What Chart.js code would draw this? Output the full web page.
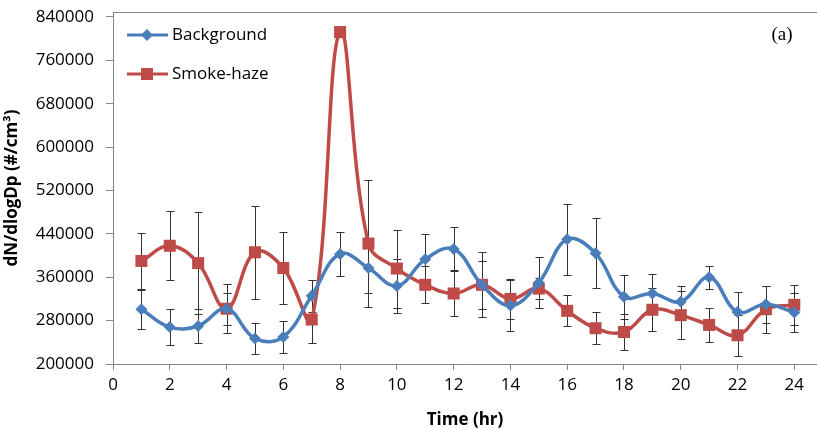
<!DOCTYPE html>
<html>
<head>
<meta charset="utf-8">
<script src="https://cdn.jsdelivr.net/npm/chart.js@4/dist/chart.umd.min.js"></script>
<style>
  html, body { margin: 0; padding: 0; background: #fff; }
  #wrap { width: 817px; height: 429px; }
</style>
</head>
<body>
<div id="wrap"><canvas id="sizeChart"></canvas></div>
<script>
// Hourly number concentration
const hours = [1, 2, 3, 4, 5, 6, 7, 8, 9, 10, 11, 12, 13, 14, 15, 16, 17, 18, 19, 20, 21, 22, 23, 24];
const background = [301000, 268000, 270000, 302000, 247000, 250000, 326000, 403000, 377000, 344000, 393000, 412000,
                    346000, 308000, 350000, 430000, 404000, 324000, 330000, 315000, 360000, 296000, 310000, 295000];
const backgroundErr = [35600, 33800, 30700, 29500, 28300, 30100, 29500, 41200, 45500, 49800, 46100, 41200,
                       60200, 46700, 46700, 65800, 64500, 40600, 36300, 28900, 20900, 36300, 34400, 35600];
const smokeHaze = [390000, 418000, 386000, 302000, 406000, 377000, 282000, 812000, 422000, 376000, 346000, 330000,
                   346000, 320000, 339000, 298000, 266000, 259000, 300000, 290000, 272000, 253000, 301000, 309000];
const smokeHazeErr = [52200, 63900, 94600, 44900, 85400, 67000, 44200, 5000, 116700, 71900, 33800, 42400,
                      44500, 36900, 19700, 28300, 29500, 33800, 39900, 44200, 32000, 38100, 43700, 36900];
const xTickValues = [0, 2, 4, 6, 8, 10, 12, 14, 16, 18, 20, 22, 24];
const yTickValues = [200000, 280000, 360000, 440000, 520000, 600000, 680000, 760000, 840000];

const BLUE = '#4A7EBB';
const RED = '#BE4B48';
const AXIS = '#868686';
const FONT = "'Open Sans', sans-serif";

const toPoints = (vals) => hours.map((h, i) => ({ x: h, y: vals[i] }));

// error bars behind the lines
const errorBars = {
    id: 'errorBars',
    beforeDatasetsDraw(chart) {
        const ctx = chart.ctx;
        const yScale = chart.scales.y;
        const errs = [backgroundErr, smokeHazeErr];
        ctx.save();
        ctx.strokeStyle = '#333';
        ctx.lineWidth = 1;
        chart.data.datasets.forEach((ds, d) => {
            const meta = chart.getDatasetMeta(d);
            meta.data.forEach((pt, i) => {
                const v = ds.data[i].y;
                const top = Math.round(yScale.getPixelForValue(v + errs[d][i])) + 0.5;
                const bot = Math.round(yScale.getPixelForValue(v - errs[d][i])) + 0.5;
                const x = Math.round(pt.x) + 0.5;
                ctx.beginPath();
                ctx.moveTo(x, top); ctx.lineTo(x, bot);
                ctx.moveTo(x - 4, top); ctx.lineTo(x + 4, top);
                ctx.moveTo(x - 4, bot); ctx.lineTo(x + 4, bot);
                ctx.stroke();
            });
        });
        ctx.restore();
    }
};

// top border, in-plot legend and panel label
const extras = {
    id: 'extras',
    afterDraw(chart) {
        const ctx = chart.ctx;
        const a = chart.chartArea;
        ctx.save();
        ctx.strokeStyle = AXIS;
        ctx.lineWidth = 1;
        ctx.beginPath();
        ctx.moveTo(a.left, a.top + 0.5);
        ctx.lineTo(a.right, a.top + 0.5);
        ctx.stroke();

        const items = [
            { label: 'Background', color: BLUE, style: 'rectRot', r: 6, y: 35 },
            { label: 'Smoke-haze', color: RED, style: 'rect', r: 8.5, y: 74 }
        ];
        items.forEach(it => {
            ctx.strokeStyle = it.color;
            ctx.lineWidth = 3;
            ctx.beginPath();
            ctx.moveTo(127, it.y);
            ctx.lineTo(168, it.y);
            ctx.stroke();
            ctx.fillStyle = it.color;
            Chart.helpers.drawPoint(ctx, { pointStyle: it.style, radius: it.r, borderWidth: 0 }, 147, it.y);
            ctx.fillStyle = '#000';
            ctx.font = '17px ' + FONT;
            ctx.textBaseline = 'middle';
            ctx.textAlign = 'left';
            ctx.fillText(it.label, 172, it.y);
        });

        ctx.font = "19px 'Liberation Serif', serif";
        ctx.textAlign = 'center';
        ctx.fillText('(a)', 782, 35);
        ctx.restore();
    }
};

new Chart(document.getElementById('sizeChart'), {
    type: 'line',
    data: {
        datasets: [
            {
                label: 'Background',
                data: toPoints(background),
                borderColor: BLUE,
                backgroundColor: BLUE,
                borderWidth: 3.5,
                tension: 0.4,
                pointStyle: 'rectRot',
                pointRadius: 6,
                pointBorderWidth: 0
            },
            {
                label: 'Smoke-haze',
                data: toPoints(smokeHaze),
                borderColor: RED,
                backgroundColor: RED,
                borderWidth: 3.5,
                tension: 0.4,
                pointStyle: 'rect',
                pointRadius: 8.5,
                pointBorderWidth: 0
            }
        ]
    },
    options: {
        responsive: true,
        maintainAspectRatio: false,
        animation: false,
        // no auto padding: the plot runs to the right edge like the cropped original
        layout: { autoPadding: false, padding: { top: 12, right: 0, left: 0, bottom: 0 } },
        plugins: {
            legend: { display: false },
            tooltip: { enabled: false }
        },
        scales: {
            x: {
                type: 'linear',
                min: 0,
                max: 24.8,
                afterBuildTicks: (scale) => { scale.ticks = xTickValues.map(v => ({ value: v })); },
                afterFit: (scale) => {
                    scale.height = 65;
                    scale.paddingLeft = 0;
                    scale.paddingRight = 0;
                },
                grid: { drawOnChartArea: false, color: AXIS, tickLength: 6 },
                border: { color: AXIS },
                ticks: { color: '#000', font: { family: FONT, size: 17 }, padding: 5, maxRotation: 0 },
                title: {
                    display: true,
                    text: 'Time (hr)',
                    color: '#000',
                    font: { family: FONT, size: 17, weight: 'bold', lineHeight: 1 },
                    padding: { top: 0, bottom: 0 }
                }
            },
            y: {
                min: 200000,
                max: 849000,
                afterBuildTicks: (scale) => { scale.ticks = yTickValues.map(v => ({ value: v })); },
                afterFit: (scale) => {
                    scale.width = 113;
                    scale.paddingTop = 0;
                    scale.paddingBottom = 0;
                },
                grid: { drawOnChartArea: false, color: AXIS, tickLength: 7 },
                border: { color: AXIS },
                ticks: {
                    color: '#000',
                    font: { family: FONT, size: 17 },
                    padding: 12,
                    callback: (v) => String(v)
                },
                title: {
                    display: true,
                    text: 'dN/dlogDp (#/cm³)',
                    color: '#000',
                    font: { family: FONT, size: 17, weight: 'bold' },
                    padding: { top: 2, bottom: 0 }
                }
            }
        }
    },
    plugins: [errorBars, extras]
});
</script>
</body>
</html>
